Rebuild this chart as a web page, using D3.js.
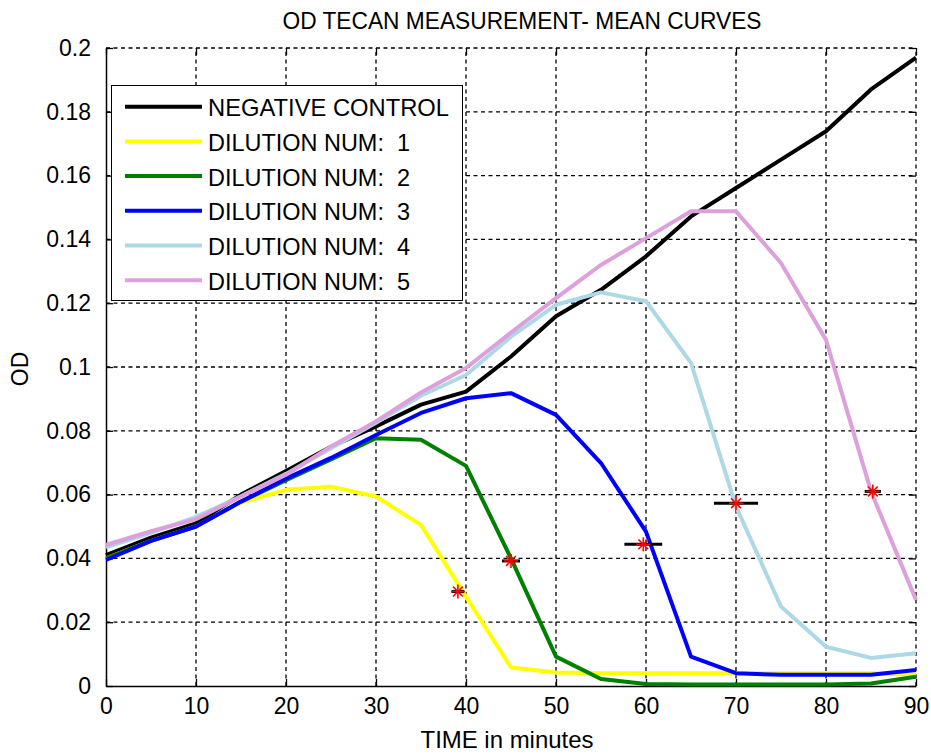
<!DOCTYPE html>
<html>
<head>
<meta charset="utf-8">
<script src="https://cdn.jsdelivr.net/npm/d3@7"></script>
<style>
  body { margin: 0; background: #fff; }
  svg { display: block; font-family: "Liberation Sans", Arial, sans-serif; }
</style>
</head>
<body>
<svg id="chart" width="931" height="754"></svg>
<script>
// ---- data ----
const times = [0, 5, 10, 15, 20, 25, 30, 35, 40, 45, 50, 55, 60, 65, 70, 75, 80, 85, 90];
const negativeControl = [0.041, 0.0465, 0.051, 0.0600, 0.0674, 0.075, 0.0814, 0.0882, 0.0923, 0.1033, 0.1159, 0.1242, 0.1347, 0.1472, 0.1561, 0.165, 0.1739, 0.187, 0.197];
const dilution1 = [0.040, 0.0455, 0.050, 0.0575, 0.0615, 0.0625, 0.0594, 0.0505, 0.028, 0.0058, 0.0042, 0.004, 0.004, 0.004, 0.004, 0.004, 0.004, 0.004, 0.0035];
const dilution2 = [0.040, 0.0455, 0.050, 0.0578, 0.0645, 0.071, 0.0777, 0.0772, 0.069, 0.040, 0.0092, 0.0022, 0.0006, 0.0005, 0.0005, 0.0005, 0.0005, 0.0008, 0.0029];
const dilution3 = [0.0395, 0.0455, 0.050, 0.0578, 0.065, 0.0715, 0.0787, 0.0856, 0.0902, 0.0918, 0.085, 0.0699, 0.0484, 0.0092, 0.004, 0.0035, 0.0035, 0.0035, 0.005];
const dilution4 = [0.0435, 0.048, 0.053, 0.0595, 0.0665, 0.0745, 0.0825, 0.091, 0.0975, 0.1095, 0.1195, 0.1234, 0.1206, 0.1013, 0.0563, 0.0249, 0.0123, 0.0088, 0.0103];
const dilution5 = [0.0442, 0.0485, 0.0523, 0.0594, 0.0662, 0.0751, 0.0829, 0.092, 0.0997, 0.1108, 0.1216, 0.132, 0.1404, 0.1488, 0.1488, 0.1326, 0.1085, 0.061, 0.027];
const seriesNames = ["NEGATIVE CONTROL", "DILUTION NUM:  1", "DILUTION NUM:  2", "DILUTION NUM:  3", "DILUTION NUM:  4", "DILUTION NUM:  5"];
const seriesColors = ["#000000", "#ffff00", "#008000", "#0000ff", "#add8e6", "#dda0dd"];
// half-max points with horizontal error bars
const markerT = [39.1, 45.0, 59.7, 70.0, 85.2];
const markerV = [0.0296, 0.0392, 0.0444, 0.0573, 0.061];
const markerErr = [0.7, 1.0, 2.1, 2.45, 0.9];
const xTicks = [0, 10, 20, 30, 40, 50, 60, 70, 80, 90];
const yTicks = [0, 0.02, 0.04, 0.06, 0.08, 0.1, 0.12, 0.14, 0.16, 0.18, 0.2];
const titleText = "OD TECAN MEASUREMENT- MEAN CURVES";
const xLabel = "TIME in minutes";
const yLabel = "OD";

// ---- chart ----
const svg = d3.select("#chart");
const L = 106, R = 916, T = 48, B = 686;
const x = d3.scaleLinear().domain([0, 90]).range([L, R]);
const y = d3.scaleLinear().domain([0, 0.2]).range([B, T]);

// grid
const grid = svg.append("g").attr("stroke", "#000").attr("stroke-width", 1.3).attr("stroke-dasharray", "4,3.5");
grid.selectAll("line.gx").data(xTicks.slice(1)).join("line")
  .attr("x1", d => x(d)).attr("x2", d => x(d)).attr("y1", B).attr("y2", T);
grid.selectAll("line.gy").data(yTicks.slice(1)).join("line")
  .attr("y1", d => y(d)).attr("y2", d => y(d)).attr("x1", L).attr("x2", R);

// axes
const fontSize = 23;
const xAxis = d3.axisBottom(x).tickValues(xTicks).tickSizeInner(-7).tickSizeOuter(0).tickPadding(14).tickFormat(d => d);
const gx = svg.append("g").attr("transform", `translate(0,${B})`).call(xAxis);
const yAxis = d3.axisLeft(y).tickValues(yTicks).tickSizeInner(-7).tickSizeOuter(0).tickPadding(15).tickFormat(d => String(+d.toFixed(2)));
const gy = svg.append("g").attr("transform", `translate(${L},0)`).call(yAxis);
[gx, gy].forEach(g => {
  g.select(".domain").attr("stroke", "#000").attr("stroke-width", 1.5);
  g.selectAll(".tick line").attr("stroke", "#000").attr("stroke-width", 1.3);
  g.selectAll(".tick text").attr("fill", "#000").style("font-size", fontSize + "px")
    .style("font-family", '"Liberation Sans", Arial, sans-serif');
});
gx.selectAll(".tick text").attr("dy", "0.71em").attr("y", 12);
// top and right ticks (box)
const topAxis = d3.axisTop(x).tickValues(xTicks).tickSizeInner(-7).tickSizeOuter(0).tickFormat("");
svg.append("g").attr("transform", `translate(0,${T})`).call(topAxis)
  .call(g => g.select(".domain").remove())
  .call(g => g.selectAll(".tick line").attr("stroke", "#000").attr("stroke-width", 1.3));
const rightAxis = d3.axisRight(y).tickValues(yTicks).tickSizeInner(-7).tickSizeOuter(0).tickFormat("");
svg.append("g").attr("transform", `translate(${R},0)`).call(rightAxis)
  .call(g => g.select(".domain").remove())
  .call(g => g.selectAll(".tick line").attr("stroke", "#000").attr("stroke-width", 1.3));

// lines
const allSeries = [negativeControl, dilution1, dilution2, dilution3, dilution4, dilution5];
const line = d3.line().x((d, i) => x(times[i])).y(d => y(d));
svg.append("g").selectAll("path").data(allSeries).join("path")
  .attr("d", d => line(d))
  .attr("fill", "none")
  .attr("stroke", (d, i) => seriesColors[i])
  .attr("stroke-width", 4)
  .attr("stroke-linejoin", "round");

// markers with error bars
const mk = svg.append("g");
markerT.forEach((t, i) => {
  const cx = x(t), cy = y(markerV[i]);
  mk.append("line").attr("x1", x(t - markerErr[i])).attr("x2", x(t + markerErr[i]))
    .attr("y1", cy).attr("y2", cy).attr("stroke", "#000").attr("stroke-width", 3);
  const r = 7;
  const star = mk.append("g").attr("stroke", "#ff0000").attr("stroke-width", 1.6);
  star.append("line").attr("x1", cx - r).attr("x2", cx + r).attr("y1", cy).attr("y2", cy);
  star.append("line").attr("x1", cx).attr("x2", cx).attr("y1", cy - r).attr("y2", cy + r);
  star.append("line").attr("x1", cx - r * 0.7).attr("x2", cx + r * 0.7).attr("y1", cy - r * 0.7).attr("y2", cy + r * 0.7);
  star.append("line").attr("x1", cx - r * 0.7).attr("x2", cx + r * 0.7).attr("y1", cy + r * 0.7).attr("y2", cy - r * 0.7);
});

// legend
const lg = svg.append("g");
lg.append("rect").attr("x", 111.5).attr("y", 85.5).attr("width", 351).attr("height", 215)
  .attr("fill", "#fff").attr("stroke", "#000").attr("stroke-width", 1);
seriesNames.forEach((name, i) => {
  const yy = 106.7 + i * 34.7;
  lg.append("line").attr("x1", 125).attr("x2", 202).attr("y1", yy).attr("y2", yy)
    .attr("stroke", seriesColors[i]).attr("stroke-width", 4);
  const t = lg.append("text").attr("x", 208).attr("y", yy + 9.5)
    .style("font-size", "24px").attr("fill", "#000")
    .attr("xml:space", "preserve").style("white-space", "pre").text(name);
  t.attr("textLength", i === 0 ? 241 : 202).attr("lengthAdjust", "spacingAndGlyphs");
});

// title & labels
svg.append("text").attr("x", 522).attr("y", 28.5).attr("text-anchor", "middle")
  .style("font-size", "23px").attr("fill", "#000")
  .attr("textLength", 479).attr("lengthAdjust", "spacingAndGlyphs").text(titleText);
svg.append("text").attr("x", 507).attr("y", 748).attr("text-anchor", "middle")
  .style("font-size", "24px").attr("fill", "#000")
  .attr("textLength", 173).attr("lengthAdjust", "spacingAndGlyphs").text(xLabel);
svg.append("text").attr("transform", "translate(28,369) rotate(-90)").attr("text-anchor", "middle")
  .style("font-size", "23px").attr("fill", "#000").text(yLabel);
</script>
</body>
</html>
